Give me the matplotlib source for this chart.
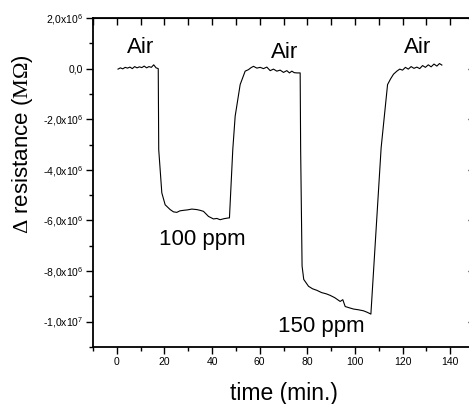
import matplotlib
matplotlib.use("Agg")
import matplotlib.pyplot as plt
from matplotlib.ticker import FixedLocator, MultipleLocator

plt.rcParams['font.family'] = ['Liberation Sans', 'DejaVu Sans']
plt.rcParams['mathtext.fontset'] = 'custom'
plt.rcParams['mathtext.rm'] = 'Liberation Serif'
plt.rcParams['mathtext.it'] = 'Liberation Serif:italic'
plt.rcParams['mathtext.sf'] = 'Liberation Sans'

# time (min.) and Delta resistance (x1e6) for each phase
t_air1 = [0.5, 1.5, 2.5, 3.5, 4.5, 5.5, 6.5, 7.5, 8.5, 9.5, 10.5, 11.5, 12.5, 13.5, 14.5, 15.5, 16.5, 17.4]
r_air1 = [-0.02, 0.03, -0.01, 0.05, 0.02, 0.06, 0.00, 0.08, 0.03, 0.07, 0.04, 0.10, 0.03, 0.08, 0.05, 0.15, 0.03, 0.00]

t_100 = [17.6, 18.9, 20.3, 22.4, 23.8, 25.2, 26.5, 28.0, 29.8, 31.5, 33.6, 35.0, 36.4, 38.5, 40.6, 42.0, 43.4, 45.0, 46.9, 47.3]
r_100 = [-3.20, -4.91, -5.38, -5.57, -5.66, -5.68, -5.62, -5.60, -5.58, -5.55, -5.57, -5.60, -5.64, -5.84, -5.94, -5.92, -5.97, -5.93, -5.90, -5.90]

t_air2 = [48.7, 49.7, 51.8, 53.9, 55.3, 56.4, 57.4, 58.8, 60.2, 61.6, 63.0, 64.4, 65.8, 67.2, 68.6, 70.0, 71.4, 72.5, 73.5, 74.5, 75.6, 77.0]
r_air2 = [-3.20, -1.88, -0.63, -0.10, -0.04, 0.04, 0.09, 0.02, 0.05, 0.00, 0.06, -0.08, -0.02, -0.10, -0.06, -0.15, -0.08, -0.17, -0.10, -0.16, -0.17, -0.17]

t_150 = [77.2, 77.8, 78.5, 80.5, 82.2, 84.0, 86.0, 88.0, 89.6, 91.5, 93.8, 94.9, 95.9, 97.6, 99.4, 101.5, 103.6, 105.2, 106.7]
r_150 = [-3.20, -7.80, -8.33, -8.60, -8.70, -8.76, -8.85, -8.90, -8.96, -9.05, -9.20, -9.13, -9.40, -9.45, -9.50, -9.53, -9.57, -9.63, -9.70]

t_air3 = [111.0, 113.7, 115.0, 116.2, 117.6, 118.8, 120.0, 121.2, 122.4, 123.6, 124.8, 126.0, 127.2, 128.4, 129.6, 130.8, 132.0, 133.2, 134.4, 135.5, 136.5]
r_air3 = [-3.13, -0.63, -0.40, -0.22, -0.10, -0.02, -0.06, 0.05, -0.02, 0.08, 0.01, 0.06, 0.00, 0.12, 0.05, 0.15, 0.07, 0.18, 0.10, 0.20, 0.14]

time_min = t_air1 + t_100 + t_air2 + t_150 + t_air3
delta_r = [v * 1e6 for v in (r_air1 + r_100 + r_air2 + r_150 + r_air3)]

ytick_vals = [2e6, 0, -2e6, -4e6, -6e6, -8e6, -1e7]
ytick_labels = [r'2,0x10$^{\mathsf{6}}$', '0,0', r'-2,0x10$^{\mathsf{6}}$', r'-4,0x10$^{\mathsf{6}}$',
                r'-6,0x10$^{\mathsf{6}}$', r'-8,0x10$^{\mathsf{6}}$', r'-1,0x10$^{\mathsf{7}}$']
xtick_vals = [0, 20, 40, 60, 80, 100, 120, 140]

ann_text = ["Air", "Air", "Air", "100 ppm", "150 ppm"]
ann_x = [9.8, 70.6, 126.5, 35.7, 85.7]
ann_y = [0.83e6, 0.63e6, 0.83e6, -6.76e6, -10.19e6]

fig = plt.figure(figsize=(4.69, 4.04), dpi=100)
ax = fig.add_axes([93 / 469, 57 / 404, 381 / 469, 329 / 404])
ax.plot(time_min, delta_r, color='black', lw=0.8)
ax.set_xlim(-10, 150)
ax.set_ylim(-1.1e7, 2e6)

ax.xaxis.set_major_locator(FixedLocator(xtick_vals))
ax.xaxis.set_minor_locator(MultipleLocator(10))
ax.set_yticks(ytick_vals)
ax.set_yticklabels(ytick_labels)
ax.yaxis.set_minor_locator(MultipleLocator(1e6))
ax.tick_params(axis='both', which='major', direction='out', length=5, width=1, labelsize=7.5, pad=2)
ax.tick_params(axis='both', which='minor', direction='out', length=3, width=1)
for s in ax.spines.values():
    s.set_linewidth(1.3)

top = ax.secondary_xaxis('top')
top.xaxis.set_major_locator(MultipleLocator(10))
top.tick_params(direction='in', length=5, width=1, labeltop=False)
right = ax.secondary_yaxis('right')
right.yaxis.set_major_locator(MultipleLocator(2e6))
right.tick_params(direction='in', length=4, width=1, labelright=False)

for txt, x, y in zip(ann_text, ann_x, ann_y):
    ax.text(x, y, txt, ha='center', va='center', fontsize=16)

ax.set_xlabel('time (min.)', fontsize=16.5, va='center', ha='center')
ax.xaxis.set_label_coords(0.5, -0.14)
ax.set_ylabel(r'$\Delta$ resistance ($\mathrm{M}\Omega$)', fontsize=16, va='center', ha='center')
ax.yaxis.set_label_coords(-0.184, 0.617)

fig.savefig('out.png', dpi=100)
